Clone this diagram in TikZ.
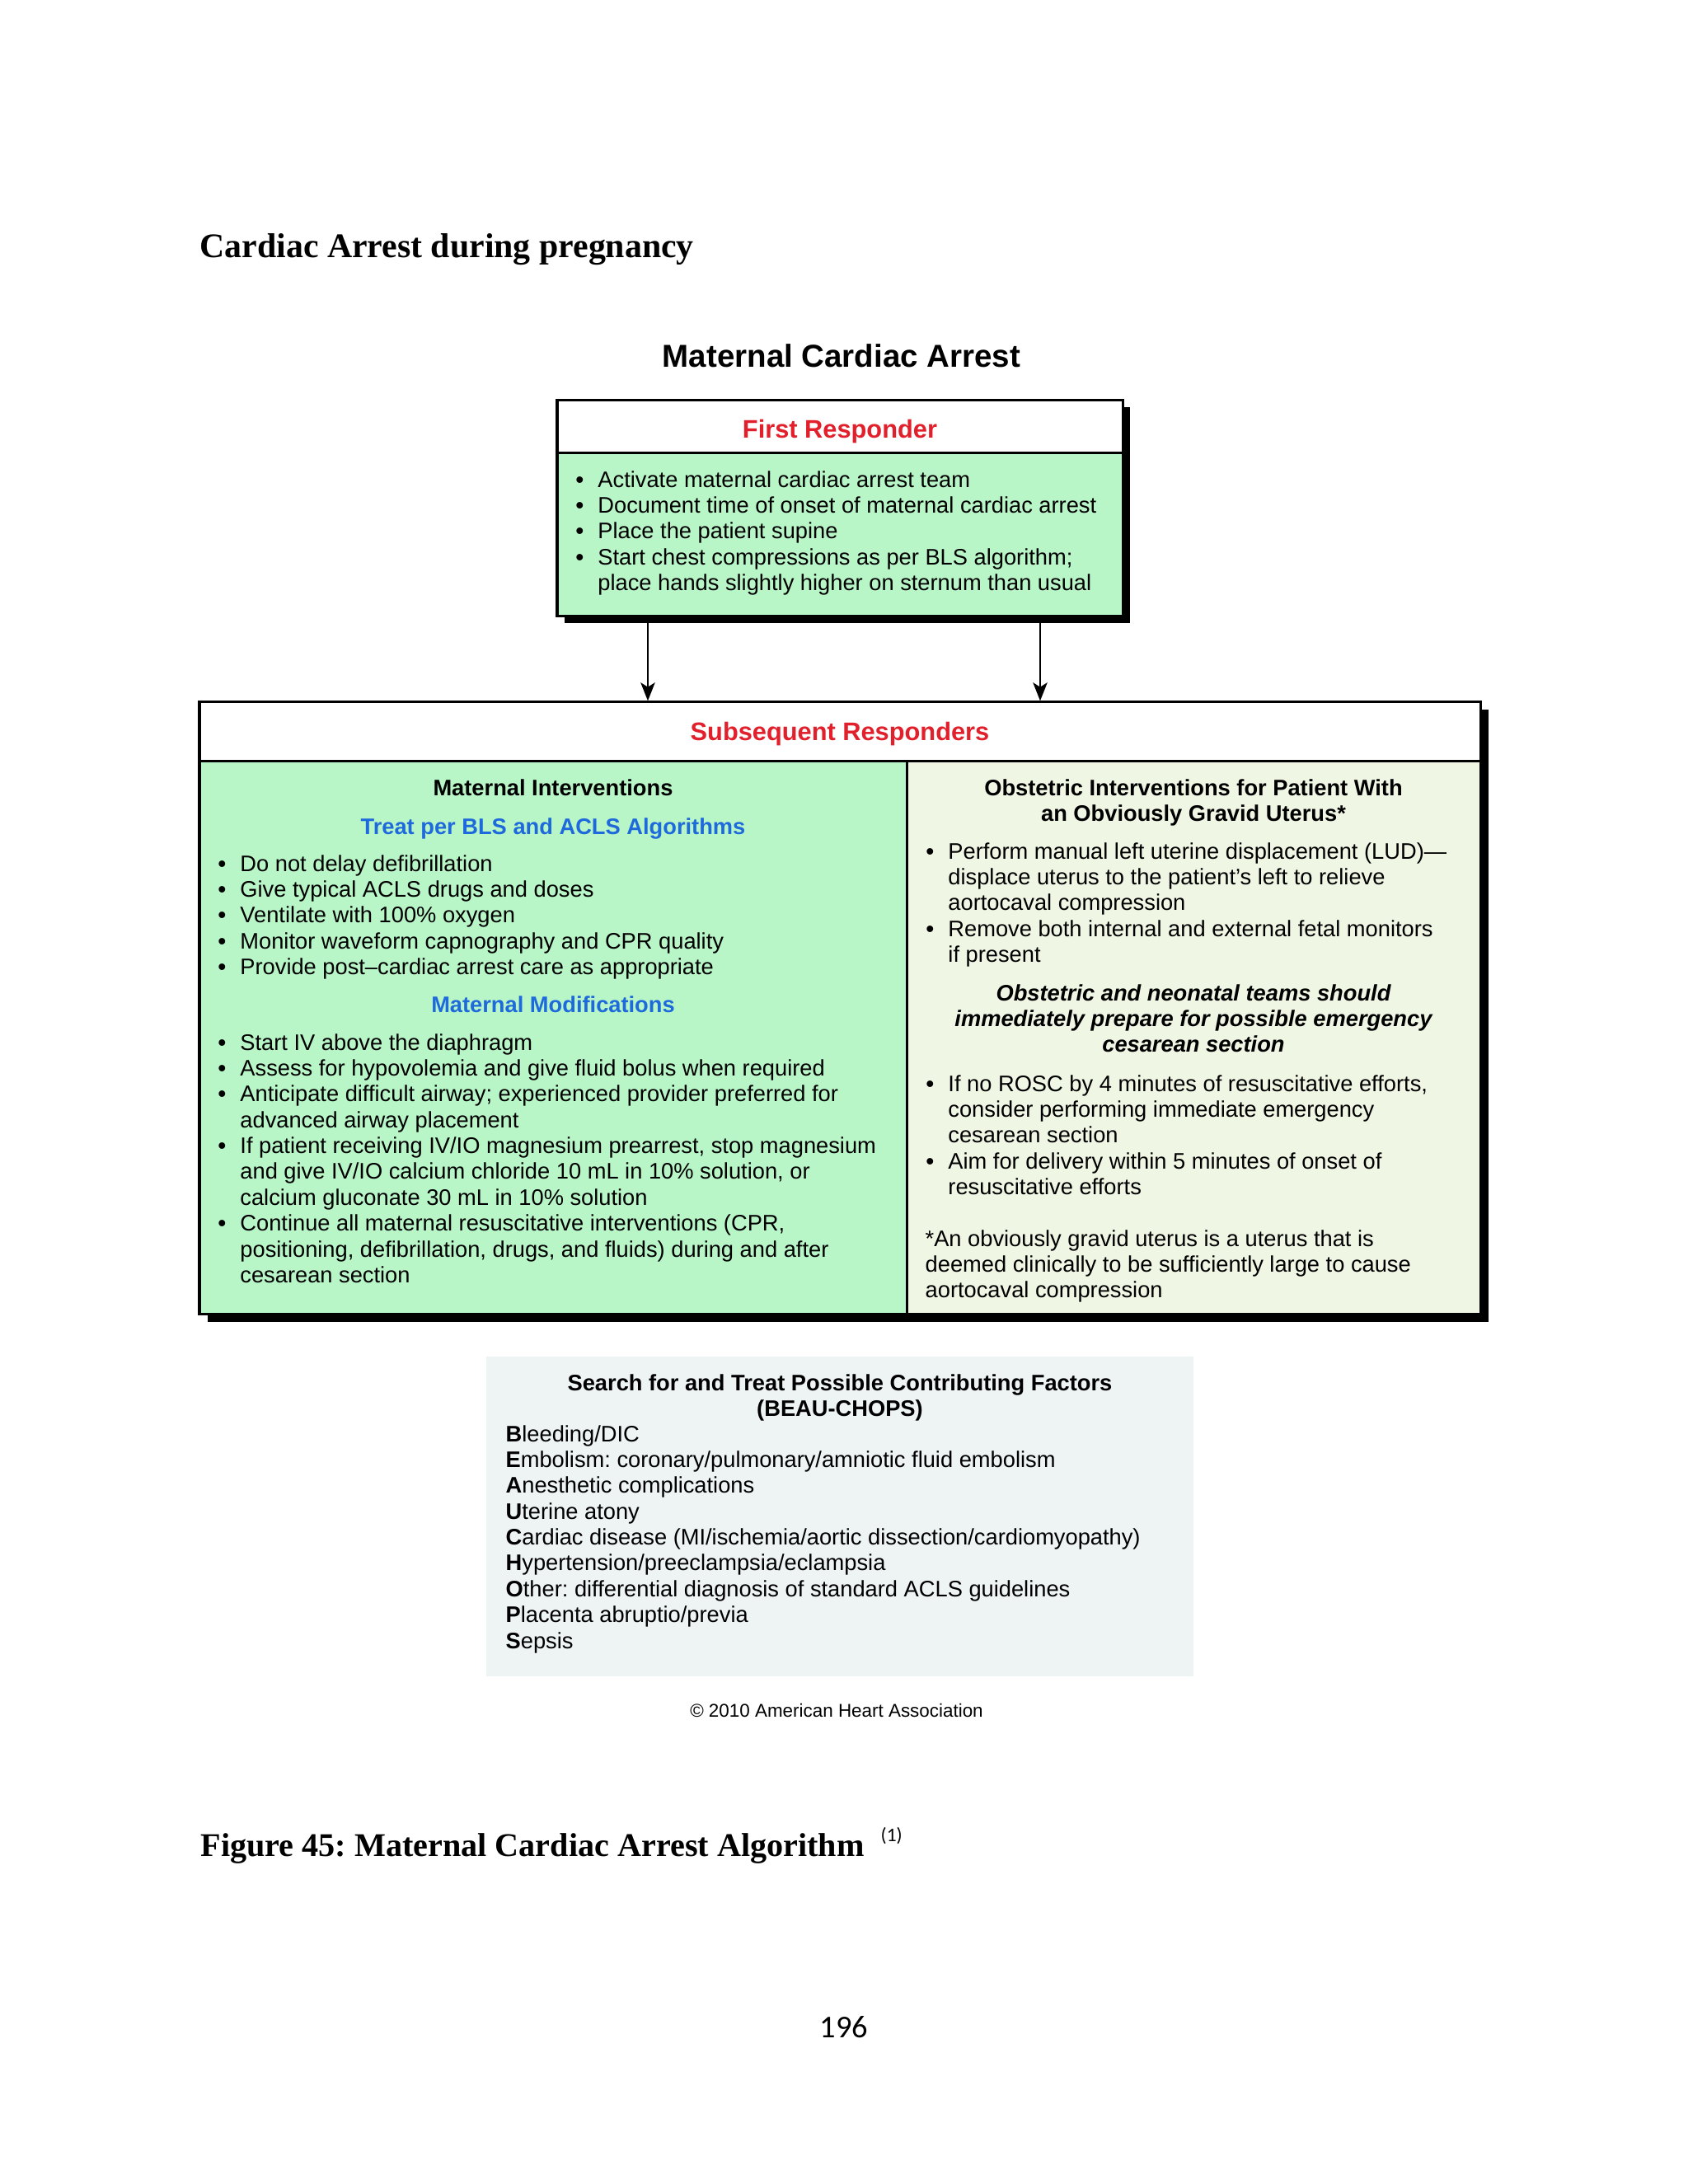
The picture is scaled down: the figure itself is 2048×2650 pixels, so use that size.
\documentclass[tikz,border=0pt]{standalone}
\usepackage{fontspec}
\setmainfont{Liberation Sans}
\newfontfamily\serifb{Liberation Serif}
\newfontfamily\calib{Carlito}
\usetikzlibrary{fit,arrows.meta}
\frenchspacing
\definecolor{frgreen}{RGB}{184,246,199}
\definecolor{obcream}{RGB}{240,246,228}
\definecolor{beaugray}{RGB}{238,243,243}
\definecolor{ahared}{RGB}{226,32,44}
\definecolor{ahablue}{RGB}{30,105,220}
\newcommand{\dtext}{\fontsize{8.15}{9.38}\selectfont}
\newcommand{\htext}{\fontsize{9.2}{11}\selectfont\bfseries}
\newcommand{\bul}[1]{\par\hangindent=8pt\hangafter=1\noindent\hbox to 8pt{\textbf{\textbullet}\hfil}#1\par}
\newcommand{\nl}{\newline}
\newcommand{\blk}[1]{\parbox[t]{420pt}{\dtext\raggedright\parskip=0pt\parindent=0pt #1}}
\newcommand{\cblk}[1]{\parbox[t]{300pt}{\dtext\centering\parskip=0pt #1}}
\begin{document}
\begin{tikzpicture}[x=0.298828pt, y=-0.298828pt,
  boxline/.style={draw=black, line width=0.9pt},
  shadowbox/.style={fill=black},
  arr/.style={line width=0.65pt, -{Stealth[length=6.6pt, width=5.2pt, inset=1.6pt]}},
  txt/.style={inner sep=0pt, anchor=base west},
  ctxt/.style={inner sep=0pt, anchor=base},
]
\useasboundingbox[fill=white] (0,0) rectangle (2048,2650);

% ---------- headings ----------
\node[txt, font=\serifb\bfseries\fontsize{12.5}{15}\selectfont] (pagetitle) at (242,312) {Cardiac Arrest during pregnancy};
\node[ctxt, font=\bfseries\fontsize{11.5}{14}\selectfont] (maintitle) at (1021,445) {Maternal Cardiac Arrest};

% ---------- First Responder box ----------
\fill[shadowbox] (685,494) rectangle (1371,756);
\node[fit={(676,485) (1362,747)}, inner sep=0pt, fill=frgreen] (frbox) {};
\fill[white] (676,485) rectangle (1362,549);
\draw[boxline] (676,485) rectangle (1362,747);
\draw[boxline] (676,549) -- (1362,549);
\node[ctxt, font=\htext, text=ahared] (frhead) at (1019,531) {First Responder};
\node[txt] (frlist) at (698,591) {\blk{%
\bul{Activate maternal cardiac arrest team}
\bul{Document time of onset of maternal cardiac arrest}
\bul{Place the patient supine}
\bul{Start chest compressions as per BLS algorithm;\nl place hands slightly higher on sternum than usual}}};

% ---------- Subsequent Responders box ----------
\fill[shadowbox] (252,861) rectangle (1806,1604);
\node[fit={(242,851) (1796,1594)}, inner sep=0pt] (srbox) {};
\fill[white] (242,851) rectangle (1796,923);
\fill[frgreen] (242,923) rectangle (1100,1594);
\fill[obcream] (1100,923) rectangle (1796,1594);
\draw[boxline] (242,851) rectangle (1796,1594);
\draw[boxline] (242,923) -- (1796,923);
\draw[boxline] (1100,923) -- (1100,1594);
\node[ctxt, font=\htext, text=ahared] (srhead) at (1019,898) {Subsequent Responders};

% arrows
\coordinate (ax1) at (786,0);
\coordinate (ax2) at (1262,0);
\draw[arr] (frbox.south -| ax1) -- (srbox.north -| ax1);
\draw[arr] (frbox.south -| ax2) -- (srbox.north -| ax2);

% left column
\node[ctxt, font=\dtext\bfseries] (mihead) at (671,965) {Maternal Interventions};
\node[ctxt, font=\dtext\bfseries, text=ahablue] (treat) at (671,1012) {Treat per BLS and ACLS Algorithms};
\node[txt] (milist) at (264,1057) {\blk{%
\bul{Do not delay defibrillation}
\bul{Give typical ACLS drugs and doses}
\bul{Ventilate with 100\% oxygen}
\bul{Monitor waveform capnography and CPR quality}
\bul{Provide post–cardiac arrest care as appropriate}}};
\node[ctxt, font=\dtext\bfseries, text=ahablue] (modhead) at (671,1228) {Maternal Modifications};
\node[txt] (modlist) at (264,1274) {\blk{%
\bul{Start IV above the diaphragm}
\bul{Assess for hypovolemia and give fluid bolus when required}
\bul{Anticipate difficult airway; experienced provider preferred for\nl advanced airway placement}
\bul{If patient receiving IV/IO magnesium prearrest, stop magnesium\nl and give IV/IO calcium chloride 10 mL in 10\% solution, or\nl calcium gluconate 30 mL in 10\% solution}
\bul{Continue all maternal resuscitative interventions (CPR,\nl positioning, defibrillation, drugs, and fluids) during and after\nl cesarean section}}};

% right column
\node[ctxt] (obhead) at (1448,965) {\cblk{\bfseries Obstetric Interventions for Patient With\\an Obviously Gravid Uterus*}};
\node[txt] (oblist) at (1123,1042) {\blk{%
\bul{Perform manual left uterine displacement (LUD)—\nl displace uterus to the patient’s left to relieve\nl aortocaval compression}
\bul{Remove both internal and external fetal monitors\nl if present}}};
\node[ctxt] (teams) at (1448,1214) {\cblk{\bfseries\itshape Obstetric and neonatal teams should\\immediately prepare for possible emergency\\cesarean section}};
\node[txt] (roscl) at (1123,1324) {\blk{%
\bul{If no ROSC by 4 minutes of resuscitative efforts,\nl consider performing immediate emergency\nl cesarean section}
\bul{Aim for delivery within 5 minutes of onset of\nl resuscitative efforts}}};
\node[txt] (footnote) at (1122,1512) {\blk{*An obviously gravid uterus is a uterus that is\\deemed clinically to be sufficiently large to cause\\aortocaval compression}};

% ---------- BEAU-CHOPS box ----------
\node[fit={(590,1646) (1448,2034)}, inner sep=0pt, fill=beaugray] (beau) {};
\node[ctxt] (beauhead) at (1019,1687) {\cblk{\bfseries Search for and Treat Possible Contributing Factors\\(BEAU-CHOPS)}};
\node[txt] (beaulist) at (613,1749) {\blk{%
\textbf{B}leeding/DIC\\
\textbf{E}mbolism: coronary/pulmonary/amniotic fluid embolism\\
\textbf{A}nesthetic complications\\
\textbf{U}terine atony\\
\textbf{C}ardiac disease (MI/ischemia/aortic dissection/cardiomyopathy)\\
\textbf{H}ypertension/preeclampsia/eclampsia\\
\textbf{O}ther: differential diagnosis of standard ACLS guidelines\\
\textbf{P}lacenta abruptio/previa\\
\textbf{S}epsis}};
\node[ctxt, font=\fontsize{6.7}{8}\selectfont] (copyr) at (1015,2083) {© 2010 American Heart Association};

% ---------- caption and page number ----------
\node[txt, font=\serifb\bfseries\fontsize{12}{14}\selectfont] (caption) at (243,2252) {Figure 45: Maternal Cardiac Arrest Algorithm};
\node[txt, font=\calib\fontsize{7}{8}\selectfont] (capref) at (1068,2234) {(1)};
\node[ctxt, font=\calib\fontsize{11.5}{14}\selectfont] (pagenum) at (1024,2472) {196};
\end{tikzpicture}
\end{document}
